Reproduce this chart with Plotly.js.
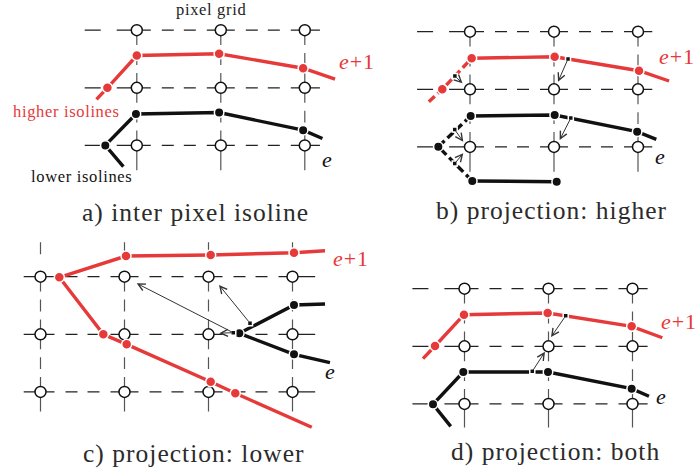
<!DOCTYPE html>
<html><head><meta charset="utf-8">
<script src="https://cdn.plot.ly/plotly-3.0.1.min.js"></script>
<style>
html,body{margin:0;padding:0;background:#fff}
#chart{width:698px;height:474px}
.annotation-text{letter-spacing:0.04em}
</style></head><body><div id="chart"></div>
<script>
// ---------- data (grid units, one unit = one pixel cell of the sketch) ----------
// panel a : inter pixel isoline
const aRedX=[-0.48,-0.35,0.00,0.98,1.98,2.36];
const aRedY=[1.20,1.00,0.44,0.41,0.66,0.85];
const aBlkX=[-0.16,-0.375,-0.01,0.98,1.98,2.21];
const aBlkY=[2.37,2.00,1.455,1.43,1.735,1.88];
// panel b : projection higher
const bRedDashX=[-0.49,-0.33,0.02], bRedDashY=[1.215,1.00,0.462];
const bRedX=[0.02,1.008,2.012,2.37], bRedY=[0.462,0.434,0.677,0.856];
const bBlkDashX=[0.008,-0.377,0.027], bBlkDashY=[1.464,1.997,2.592];
const bBlkX=[0.008,1.008,1.99,2.218], bBlkY=[1.464,1.446,1.736,1.868];
const bBlkLowX=[0.027,1.032], bBlkLowY=[2.592,2.604];
const bRedDotX=[-0.33,0.02,1.008,2.012], bRedDotY=[1.00,0.462,0.434,0.677];
const bBlkDotX=[-0.377,0.008,1.008,1.99,0.027,1.032], bBlkDotY=[1.997,1.464,1.446,1.736,2.592,2.604];
const bSqX=[-0.18,1.167,-0.182,-0.182,1.20], bSqY=[0.77,0.472,1.70,2.29,1.50];
const bHeadX=[-0.09,1.048,-0.08,-0.08,1.067], bHeadY=[0.896,0.868,1.91,2.11,1.88];
// panel c : projection lower
const cRedUpX=[0.224,1.018,2.026,3.018,3.387], cRedUpY=[0.01,-0.359,-0.377,-0.417,-0.451];
const cRedLowX=[0.224,0.748,1.026,2.026,2.319,3.229], cRedLowY=[0.01,1.00,1.174,1.823,2.024,2.615];
const cBlkX=[3.387,3.018,2.367,3.018,3.446], cBlkY=[0.474,0.491,0.983,1.347,1.493];
const cSqX=[2.494,2.295], cSqY=[0.807,0.972];
const cTailX=[2.295,2.494,2.295], cTailY=[0.972,0.807,0.972];
const cHeadX=[1.145,2.125,2.128], cHeadY=[0.115,0.144,0.98];
// panel d : projection both
const dRedX=[-0.494,-0.351,-0.006,0.99,1.99,2.355], dRedY=[1.215,0.995,0.451,0.422,0.653,0.851];
const dBlkX=[-0.164,-0.375,-0.014,0.994,1.99,2.196], dBlkY=[2.389,2.007,1.446,1.446,1.736,1.868];
const dSqX=[1.205,0.807], dSqY=[0.47,1.435];
const dHeadX=[1.03,0.958], dHeadY=[0.84,1.095];
// texts
const captions=['a) inter pixel isoline','b) projection: higher','c) projection: lower','d) projection: both'];
const upperLabel='<i>e</i>+1', lowerLabel='<i>e</i>';
const gridLabel='pixel grid', higherLabel='higher isolines', lowerIsoLabel='lower isolines';

// ---------- layout constants ----------
const RED='#e63a3a', BLK='#111111';
const FONT='"Liberation Serif", "Times New Roman", serif';
const UX=84, UY=57.6;
const ORIGIN={a:[136.8,30.2], b:[470,31.7], c:[40.5,276.7], d:[464.5,288.7]};
const GRID={a:{nc:3,nr:3,hx:[-0.62,2.18],vy:[0,2.43]},
            b:{nc:3,nr:3,hx:[-0.63,2.17],vy:[0,2.43]},
            c:{nc:4,nr:3,hx:[-0.2,3.27],vy:[-0.6,2.34]},
            d:{nc:3,nr:3,hx:[-0.62,2.18],vy:[0,2.41]}};
const HCELL=[14,11,12,10,12,11,14], VCELL=[15,8,12,8,15];
const px=(p,g)=>ORIGIN[p][0]+g*UX, py=(p,g)=>ORIGIN[p][1]+g*UY;
const mx=(p,a)=>a.map(g=>px(p,g)), my=(p,a)=>a.map(g=>py(p,g));

function dashArray(parts){
  const out=[];let cur=null;
  parts.forEach(([d,l])=>{if(l<=0)return; if(cur&&cur[0]===d)cur[1]+=l; else {cur=[d,l];out.push(cur);}});
  if(!out[0][0]) out.unshift([true,0]);
  if(out[out.length-1][0]) out.push([false,3000]);
  return out.map(p=>p[1].toFixed(2)+'px').join(',');
}
const traces=[];
const circX=[],circY=[];
Object.keys(GRID).forEach(p=>{
  const g=GRID[p];
  for(let r=0;r<g.nr;r++){
    const parts=[]; const L=-g.hx[0]*UX, R=(g.hx[1]-(g.nc-1))*UX;
    if(L>32) parts.push([true,16],[false,16],[true,L-32]); else parts.push([true,L]);
    for(let c=0;c<g.nc-1;c++) HCELL.forEach((l,i)=>parts.push([i%2===0,l*UX/84]));
    parts.push([true,R]);
    traces.push({type:'scatter',mode:'lines',x:[px(p,g.hx[0]),px(p,g.hx[1])],y:[py(p,r),py(p,r)],
      line:{color:'#222',width:1.2,dash:dashArray(parts)},hoverinfo:'skip'});
  }
  for(let c=0;c<g.nc;c++){
    const parts=[];
    if(g.vy[0]<0){const T=-g.vy[0]*UY; parts.push([true,12],[false,T-12]);}
    for(let r=0;r<g.nr-1;r++) VCELL.forEach((l,i)=>parts.push([i%2===0,l*UY/58]));
    parts.push([true,(g.vy[1]-(g.nr-1))*UY]);
    traces.push({type:'scatter',mode:'lines',x:[px(p,c),px(p,c)],y:[py(p,g.vy[0]),py(p,g.vy[1])],
      line:{color:'#555',width:1.2,dash:dashArray(parts)},hoverinfo:'skip'});
    for(let r=0;r<g.nr;r++){circX.push(px(p,c));circY.push(py(p,r));}
  }
});
traces.push({type:'scatter',mode:'markers',x:circX,y:circY,hoverinfo:'skip',
  marker:{symbol:'circle',size:11,color:'#fff',line:{color:BLK,width:1.5}}});

function line(p,xs,ys,color,dash){traces.push({type:'scatter',mode:'lines',x:mx(p,xs),y:my(p,ys),hoverinfo:'skip',
  line:{color:color,width:3.4,dash:dash||'solid',simplify:false}});}
line('a',aRedX,aRedY,RED); line('a',aBlkX,aBlkY,BLK);
line('b',bRedDashX,bRedDashY,RED,'8px,4px'); line('b',bRedX,bRedY,RED);
line('b',bBlkDashX,bBlkDashY,BLK,'8px,4px'); line('b',bBlkX,bBlkY,BLK); line('b',bBlkLowX,bBlkLowY,BLK);
line('c',cRedUpX,cRedUpY,RED); line('c',cRedLowX,cRedLowY,RED); line('c',cBlkX,cBlkY,BLK);
line('d',dRedX,dRedY,RED); line('d',dBlkX,dBlkY,BLK);

const rdX=[],rdY=[],bdX=[],bdY=[],sqX=[],sqY=[];
function addPts(p,xs,ys,tx,ty){xs.forEach((v,i)=>{tx.push(px(p,v));ty.push(py(p,ys[i]));});}
addPts('a',aRedX.slice(1,-1),aRedY.slice(1,-1),rdX,rdY);
addPts('a',aBlkX.slice(1,-1),aBlkY.slice(1,-1),bdX,bdY);
addPts('b',bRedDotX,bRedDotY,rdX,rdY); addPts('b',bBlkDotX,bBlkDotY,bdX,bdY);
addPts('c',cRedUpX.slice(0,-1),cRedUpY.slice(0,-1),rdX,rdY);
addPts('c',cRedLowX.slice(1,-1),cRedLowY.slice(1,-1),rdX,rdY);
addPts('c',cBlkX.slice(1,-1),cBlkY.slice(1,-1),bdX,bdY);
addPts('d',dRedX.slice(1,-1),dRedY.slice(1,-1),rdX,rdY);
addPts('d',dBlkX.slice(1,-1),dBlkY.slice(1,-1),bdX,bdY);
addPts('b',bSqX,bSqY,sqX,sqY); addPts('c',cSqX,cSqY,sqX,sqY); addPts('d',dSqX,dSqY,sqX,sqY);
traces.push({type:'scatter',mode:'markers',x:rdX,y:rdY,hoverinfo:'skip',marker:{size:10,color:RED,line:{color:'#fff',width:1.5}}});
traces.push({type:'scatter',mode:'markers',x:bdX,y:bdY,hoverinfo:'skip',marker:{size:9.5,color:BLK,line:{color:'#fff',width:1.5}}});
traces.push({type:'scatter',mode:'markers',x:sqX,y:sqY,hoverinfo:'skip',marker:{symbol:'square',size:5,color:BLK,line:{color:'#fff',width:1.5}}});

const ann=[];
function arrow(p,tx,ty,hx,hy){ann.push({xref:'x',yref:'y',axref:'x',ayref:'y',x:px(p,hx),y:py(p,hy),ax:px(p,tx),ay:py(p,ty),
  text:'',showarrow:true,arrowhead:5,arrowsize:1.4,arrowwidth:1,arrowcolor:'#333',standoff:0});}
bSqX.forEach((v,i)=>arrow('b',v,bSqY[i],bHeadX[i],bHeadY[i]));
cTailX.forEach((v,i)=>arrow('c',v,cTailY[i],cHeadX[i],cHeadY[i]));
dSqX.forEach((v,i)=>arrow('d',v,dSqY[i],dHeadX[i],dHeadY[i]));

function label(text,x,y,size,color){ann.push({xref:'x',yref:'y',x:x,y:y,text:text,showarrow:false,xanchor:'center',yanchor:'middle',
  font:{family:FONT,size:size,color:color}});}
label(gridLabel,211,9.6,16.5,'#222');
label(higherLabel,66,111.3,16.5,RED);
label(lowerIsoLabel,81.5,176.3,16.5,'#111');
label(upperLabel,357,61,22,RED); label(lowerLabel,327,159.3,22,'#111');
label(upperLabel,677,56,22,RED); label(lowerLabel,660,156.6,22,'#111');
label(upperLabel,351,258,22,RED); label(lowerLabel,330,371,22,'#111');
label(upperLabel,679,321.3,22,RED); label(lowerLabel,661.5,396.3,22,'#111');
label(captions[0],195.8,212.2,25.5,'#2b2b2b');
label(captions[1],551.5,210.8,25.5,'#2b2b2b');
label(captions[2],194.2,453.2,25.5,'#2b2b2b');
label(captions[3],555.7,451.2,25.5,'#2b2b2b');

Plotly.newPlot('chart',traces,{width:698,height:474,margin:{l:0,r:0,t:0,b:0},paper_bgcolor:'#fff',plot_bgcolor:'#fff',
  showlegend:false,font:{family:FONT},xaxis:{range:[0,698],visible:false},yaxis:{range:[474,0],visible:false},annotations:ann},
  {staticPlot:true,displayModeBar:false});
</script></body></html>
